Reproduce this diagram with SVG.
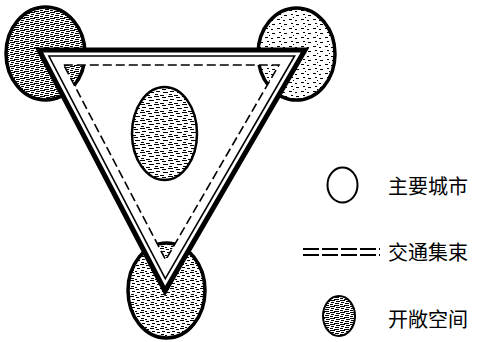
<svg xmlns="http://www.w3.org/2000/svg" width="480" height="342" viewBox="0 0 480 342">
<style>
.city{stroke:#000;stroke-width:3.5}
.lbl{font-family:"Noto Sans CJK SC","Noto Sans CJK JP",sans-serif;font-size:20px;fill:#000}
.outer{fill:none;stroke:#000;stroke-width:5;stroke-linejoin:miter}
.mid{fill:none;stroke:#000;stroke-width:1.6}
.dash{fill:none;stroke:#000;stroke-width:1.6;stroke-dasharray:9 4}
</style>
<defs>
<pattern id="spkL" width="12" height="9" patternUnits="userSpaceOnUse">
<rect width="12" height="9" fill="#fff"/>
<path d="M1 1.5h3M7 2.5h2M3 5.5h2M8 6.5h3M5 8.5h1" stroke="#000" stroke-width="1"/>
</pattern>
<pattern id="spkM" width="10" height="8" patternUnits="userSpaceOnUse">
<rect width="10" height="8" fill="#fff"/>
<path d="M0 0.5h4M6 1.5h3M2 3.5h3M7 4.5h3M1 6.5h3M5 7.5h2" stroke="#000" stroke-width="1"/>
</pattern>
<pattern id="spkC" width="14" height="8" patternUnits="userSpaceOnUse">
<rect width="14" height="8" fill="#fff"/>
<path d="M0 0.5h5M8 1.5h4M2 3.5h4M9 4.5h5M1 6.5h3M6 7.5h4" stroke="#000" stroke-width="1"/>
</pattern>
<pattern id="spkD" width="10" height="6" patternUnits="userSpaceOnUse">
<rect width="10" height="6" fill="#fff"/>
<path d="M0 0.5h5M6 1.5h4M1 2.5h3M5 3.5h4M0 4.5h3M4 5.5h5" stroke="#000" stroke-width="1"/>
</pattern>
</defs>
<rect width="480" height="342" fill="#fff"/>
<g id="city-top-left"><ellipse class="city" cx="45.5" cy="53.5" rx="39.5" ry="46.5" fill="url(#spkD)"/></g>
<g id="city-top-right"><ellipse class="city" cx="296.5" cy="54" rx="38.5" ry="46" fill="url(#spkL)"/></g>
<g id="city-bottom"><ellipse class="city" cx="166.5" cy="290.5" rx="38.5" ry="47.5" fill="url(#spkM)"/></g>
<g id="open-space-center"><ellipse cx="164.5" cy="133.5" rx="32.5" ry="46.5" fill="url(#spkC)" stroke="#000" stroke-width="2.5"/></g>
<g id="connectors">
<path d="M39 50L305 50L165 291Z M63.77 65L165.69 259.95L278.94 65Z" fill="#fff" fill-rule="evenodd"/>
<path class="outer" d="M39 50L305 50L165 291Z"/>
<path class="mid" d="M48.91 56L294.58 56L165.28 278.58Z"/>
<path class="dash" d="M63.77 65L278.94 65L165.69 259.95Z"/>
</g>
<g id="legend">
<g id="legend-city">
<ellipse cx="342.5" cy="185" rx="15" ry="17.5" fill="#fff" stroke="#000" stroke-width="2"/>
<text class="lbl" x="388" y="194">主要城市</text>
</g>
<g id="legend-traffic">
<line x1="303" y1="249" x2="380" y2="249" stroke="#000" stroke-width="1.8" stroke-dasharray="16 3"/>
<line x1="303" y1="255" x2="380" y2="255" stroke="#000" stroke-width="1.8" stroke-dasharray="16 3"/>
<text class="lbl" x="388" y="260">交通集束</text>
</g>
<g id="legend-open">
<ellipse cx="339" cy="316" rx="16" ry="20" fill="url(#spkD)" stroke="#000" stroke-width="2"/>
<text class="lbl" x="388" y="327">开敞空间</text>
</g>
</g>
</svg>
